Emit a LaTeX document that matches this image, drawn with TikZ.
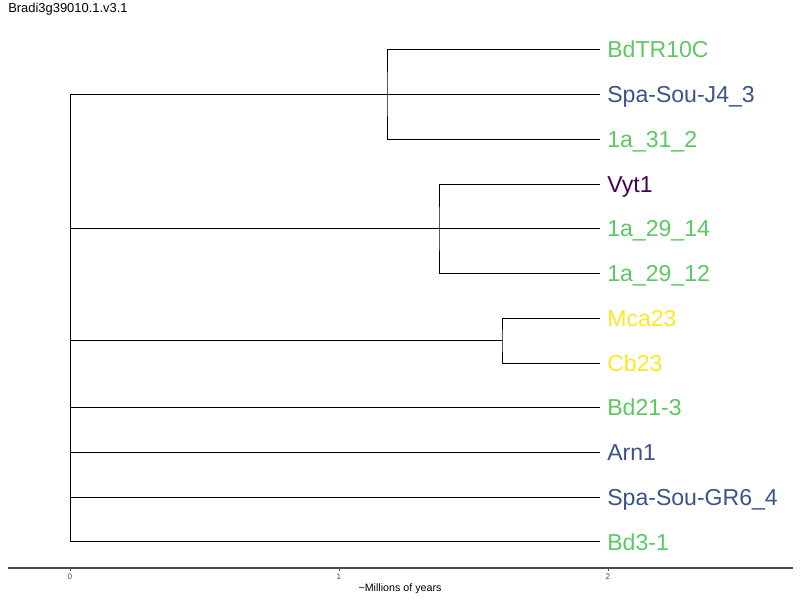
\documentclass[tikz,border=0pt]{standalone}
\usepackage{fontspec}
\setmainfont{Liberation Sans}
\usetikzlibrary{positioning}
\definecolor{vgreen}{HTML}{5DC863}
\definecolor{vblue}{HTML}{3B528B}
\definecolor{vpurple}{HTML}{440154}
\definecolor{vyellow}{HTML}{FDE725}
\definecolor{axisgray}{HTML}{4D4D4D}
\tikzset{
  branch/.style={line width=0.7pt,black},
  leaf/.style={anchor=west,inner sep=0pt,text height=11.7pt,text depth=0pt,font=\fontsize{16.4}{19}\selectfont},
  ticklabel/.style={inner sep=0pt,text=axisgray,font=\fontsize{5.8}{7}\selectfont}
}

\begin{document}
\begin{tikzpicture}[x=0.025cm,y=-0.025cm]
                \useasboundingbox (0,0) rectangle (800,600);

                \node[anchor=west,inner sep=0pt,font=\fontsize{9.2}{11}\selectfont] (title) at (8,9.5) {Bradi3g39010.1.v3.1};

                \coordinate (r) at (70,94.3);
                \coordinate (nA) at (387,94.3);
                \coordinate (nB) at (439,228.7);
                \coordinate (nC) at (502,340.5);

                \coordinate (l1) at (600,49.5);
                \coordinate (l2) at (600,94.3);
                \coordinate (l3) at (600,139);
                \coordinate (l4) at (600,184);
                \coordinate (l5) at (600,228.7);
                \coordinate (l6) at (600,273.5);
                \coordinate (l7) at (600,318);
                \coordinate (l8) at (600,363);
                \coordinate (l9) at (600,407.5);
                \coordinate (l10) at (600,452.3);
                \coordinate (l11) at (600,497);
                \coordinate (l12) at (600,541.8);

                \draw[branch] (r) -- (r |- l12);
                \draw[branch] (r) -- (nA);
                \draw[branch] (r |- nB) -- (nB);
                \draw[branch] (r |- nC) -- (nC);
                \draw[branch] (r |- l9) -- (l9);
                \draw[branch] (r |- l10) -- (l10);
                \draw[branch] (r |- l11) -- (l11);
                \draw[branch] (r |- l12) -- (l12);

                \draw[branch] (l1) -| (nA) |- (l3);
                \draw[branch] (nA) -- (l2);
                \draw[branch] (l4) -| (nB) |- (l6);
                \draw[branch] (nB) -- (l5);
                \draw[branch] (l7) -| (nC) |- (l8);

                \node[leaf,text=vgreen,right=5pt of l1] (t1) {BdTR10C};
                \node[leaf,text=vblue,right=5pt of l2] (t2) {Spa-Sou-J4\_3};
                \node[leaf,text=vgreen,right=5pt of l3] (t3) {1a\_31\_2};
                \node[leaf,text=vpurple,right=5pt of l4] (t4) {Vyt1};
                \node[leaf,text=vgreen,right=5pt of l5] (t5) {1a\_29\_14};
                \node[leaf,text=vgreen,right=5pt of l6] (t6) {1a\_29\_12};
                \node[leaf,text=vyellow,right=5pt of l7] (t7) {Mca23};
                \node[leaf,text=vyellow,right=5pt of l8] (t8) {Cb23};
                \node[leaf,text=vgreen,right=5pt of l9] (t9) {Bd21-3};
                \node[leaf,text=vblue,right=5pt of l10] (t10) {Arn1};
                \node[leaf,text=vblue,right=5pt of l11] (t11) {Spa-Sou-GR6\_4};
                \node[leaf,text=vgreen,right=5pt of l12] (t12) {Bd3-1};

                \draw[line width=0.9pt,axisgray] (8,568) -- (793,568);
                \draw[line width=0.5pt,axisgray] (70,568) -- (70,571);
                \draw[line width=0.5pt,axisgray] (339,568) -- (339,571);
                \draw[line width=0.5pt,axisgray] (608,568) -- (608,571);
                \node[ticklabel] (k0) at (70,577) {0};
                \node[ticklabel] (k1) at (339,577) {1};
                \node[ticklabel] (k2) at (608,577) {2};
                \node[inner sep=0pt,font=\fontsize{7.6}{9}\selectfont] (xlabel) at (400,589) {\textasciitilde Millions of years};
            \end{tikzpicture}
\end{document}
